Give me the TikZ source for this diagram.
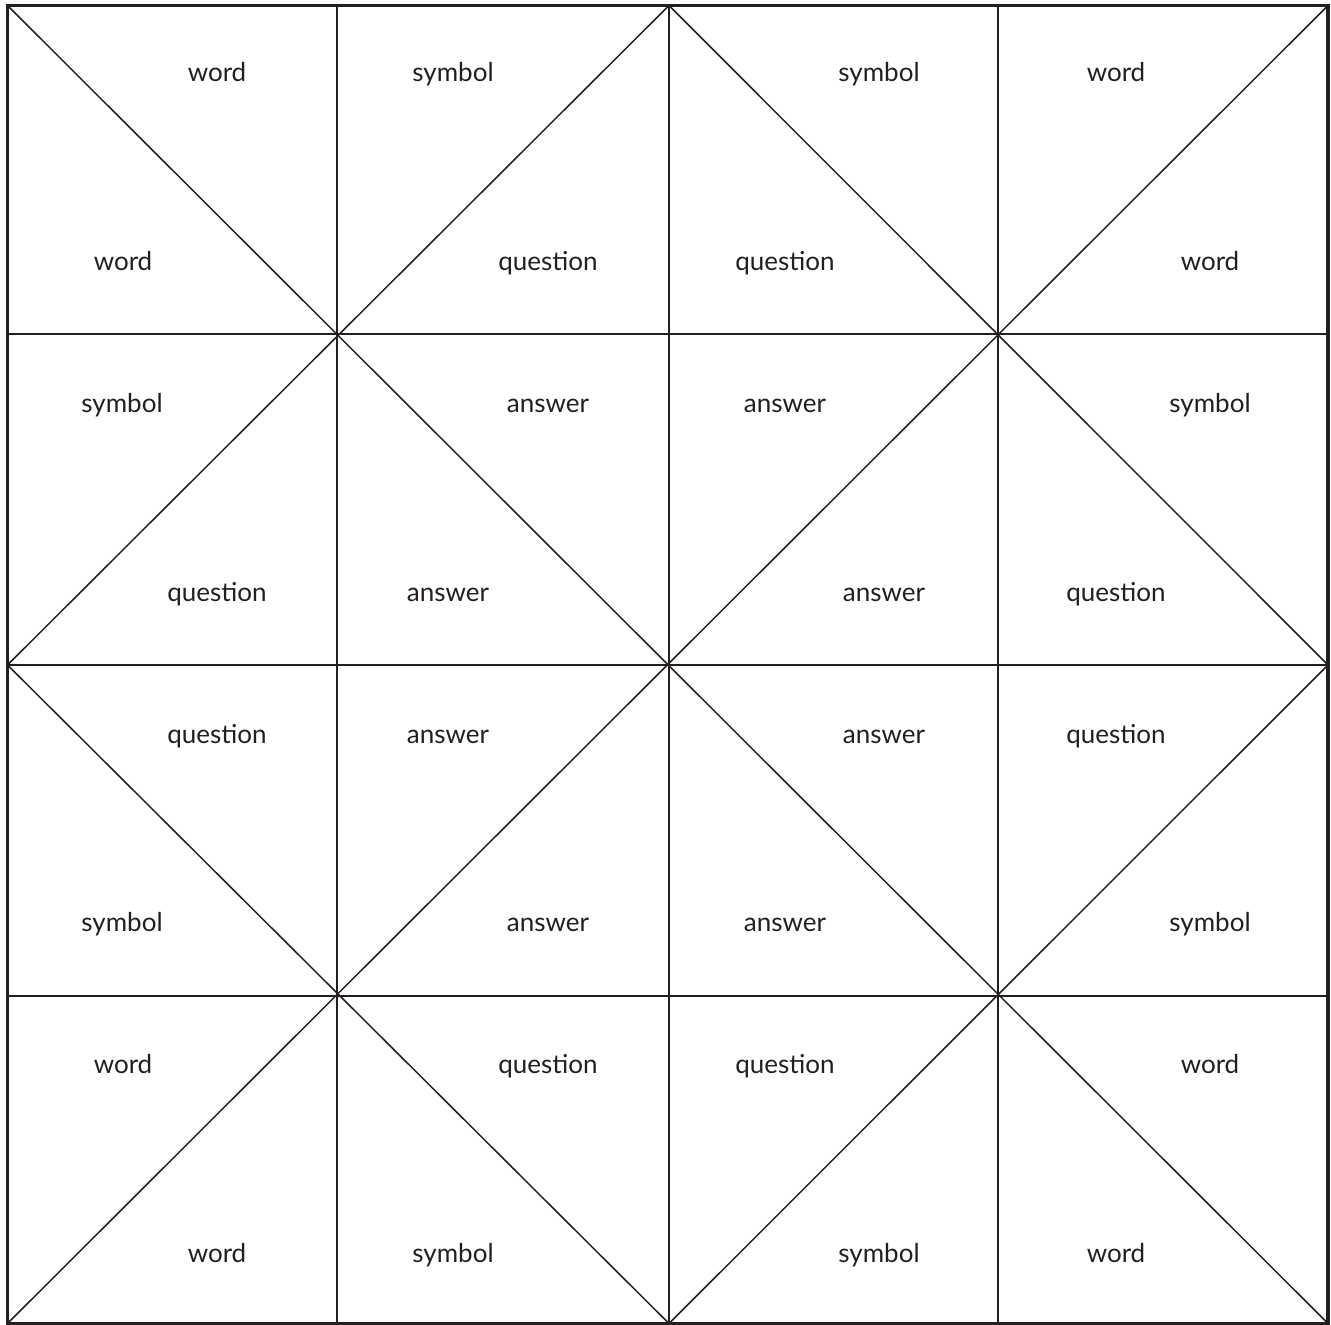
\documentclass[tikz,border=0pt]{standalone}
\usepackage{fontspec}
\setmainfont{Lato}
\definecolor{ink}{HTML}{231F20}
\begin{document}
\begin{tikzpicture}[x=1pt,y=-1pt,
  thin line/.style={draw=ink,line width=1.5pt},
  frame/.style={draw=ink,line width=3.8pt},
  lbl/.style={text=ink,font=\fontsize{26}{30}\selectfont,inner sep=0pt,anchor=center,yshift=-3pt}]
\useasboundingbox (0,0) rectangle (1331,1325);
% corner coordinates
\coordinate (A) at (7.5,5.5);
\coordinate (B) at (1328,5.5);
\coordinate (C) at (1328,1323.5);
\coordinate (D) at (7.5,1323.5);
\coordinate (TM) at (669,5.5);
\coordinate (BM) at (669,1323.5);
\coordinate (LM) at (7.5,665);
\coordinate (RM) at (1328,665);
% grid lines
\foreach \x in {337,669,998} \draw[thin line] (\x,5.5) -- (\x,1323.5);
\foreach \y in {334,665,996} \draw[thin line] (7.5,\y) -- (1328,\y);
% diagonals
\draw[thin line] (A) -- (C);
\draw[thin line] (B) -- (D);
\draw[thin line] (LM) -- (TM) -- (RM) -- (BM) -- cycle;
% frame
\draw[frame] (A) rectangle (C);
% labels
\foreach \t/\x/\y in {
 word/217/72, symbol/453/72, symbol/879/72, word/1116/72,
 word/123/261, question/548/261, question/785/261, word/1210/261,
 symbol/122/403, answer/548/403, answer/785/403, symbol/1210/403,
 question/217/592, answer/448/592, answer/884/592, question/1116/592,
 question/217/734, answer/448/734, answer/884/734, question/1116/734,
 symbol/122/922, answer/548/922, answer/785/922, symbol/1210/922,
 word/123/1064, question/548/1064, question/785/1064, word/1210/1064,
 word/217/1253, symbol/453/1253, symbol/879/1253, word/1116/1253}
 \node[lbl] (n-\x-\y) at (\x,\y) {\strut\t};
\end{tikzpicture}
\end{document}
